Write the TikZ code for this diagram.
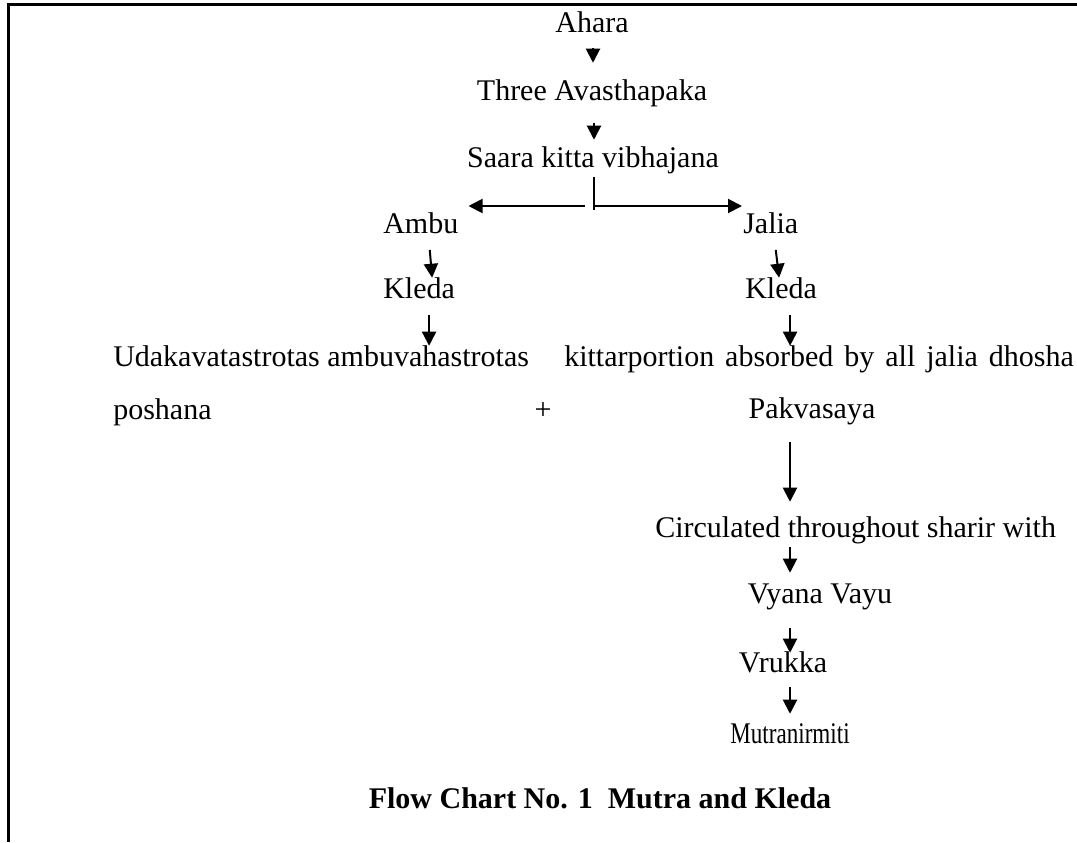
\documentclass[tikz,border=0pt]{standalone}
\usepackage{fontspec}
\setmainfont{Liberation Serif}
\usepackage{graphicx}
\usetikzlibrary{arrows.meta,calc}
\tikzset{
  lbl/.style={inner sep=0pt, anchor=base, text height=15.75pt, text depth=5pt,
    font=\fontsize{22.5pt}{27pt}\selectfont},
  flow/.style={line width=1.5pt, -{Triangle[length=10.5pt,width=10.5pt]}},
  frame/.style={line width=2.25pt}
}
\begin{document}
\begin{tikzpicture}[x=0.75pt,y=-0.75pt]
\useasboundingbox (0,0) rectangle (1077,842);
\draw[frame] (8,842) -- (8,4.5) -- (1077,4.5);

% top chain
\node[lbl] (ahara) at (592,33) {Ahara};
\node[lbl] (avas) at (592,100) {Three Avasthapaka};
\node[lbl] (saara) at (593,167) {Saara kitta vibhajana};
\coordinate (split) at (594,206);

% two branches
\node[lbl, anchor=base west] (ambu) at (383,233) {Ambu};
\node[lbl, anchor=base west] (jalia) at (743,233) {Jalia};
\node[lbl, anchor=base west] (kledaL) at (383,298) {Kleda};
\node[lbl, anchor=base west] (kledaR) at (745,298) {Kleda};
\node[lbl, anchor=base west] (udaka) at (113,366) {Udakavatastrotas ambuvahastrotas};
\node[lbl, anchor=base west] (kittar) at (564,366) {\spaceskip=8.2pt\relax kittarportion absorbed by all jalia dhosha};
\node[lbl, anchor=base west] (poshana) at (113,419) {poshana};
\node[lbl] (plus) at (543,419) {+};
\node[lbl] (pak) at (812,418) {Pakvasaya};

% right chain
\node[lbl, anchor=base west] (circ) at (655,537) {Circulated throughout sharir with};
\node[lbl] (vyana) at (820,603) {Vyana Vayu};
\node[lbl] (vrukka) at (783,672) {Vrukka};
\node[lbl] (mutra) at (790,743) {\scalebox{0.77}[1]{Mutranirmiti}};

\node[lbl] (title) at (600,808) {\bfseries Flow Chart No. 1\ \ Mutra and Kleda};

\draw[flow] ($(ahara.south)+(1,8)$) -- ($(avas.north)+(1,-16)$);
\draw[flow] ($(avas.south)+(2,16)$) -- ($(saara.north)+(1,-6)$);
\draw[line width=1.5pt] ($(saara.south)+(1,3)$) -- ($(split)+(0,4)$);
\draw[flow] ($(split)+(-9,0)$) -- ($(ambu.north east |- split)+(10,0)$);
\draw[flow] ($(split)+(1,0)$) -- ($(jalia.north west |- split)+(-1,0)$);
\draw[flow] ($(ambu.south)+(9,10)$) -- ($(kledaL.north)+(13,1)$);
\draw[flow] ($(kledaL.south)+(10,10)$) -- ($(kledaL.south |- udaka.north)+(10,1)$);
\draw[flow] ($(jalia.south)+(5,10)$) -- ($(kledaR.north)+(-2,1)$);
\draw[flow] ($(kledaR.south)+(9,10)$) -- ($(kledaR.south |- kittar.north)+(9,1)$);
\draw[flow] ($(pak.south)+(-22,17)$) -- ($(pak.south |- circ.north)+(-22,-14)$);
\draw[flow] ($(circ.south -| pak.south)+(-22,3)$) -- ($(vyana.north -| pak.south)+(-22,-9)$);
\draw[flow] ($(vyana.south -| pak.south)+(-22,18)$) -- ($(vrukka.north -| pak.south)+(-22,2)$);
\draw[flow] ($(vrukka.south -| pak.south)+(-22,8)$) -- ($(mutra.north -| pak.south)+(-22,-8)$);
\end{tikzpicture}
\end{document}
